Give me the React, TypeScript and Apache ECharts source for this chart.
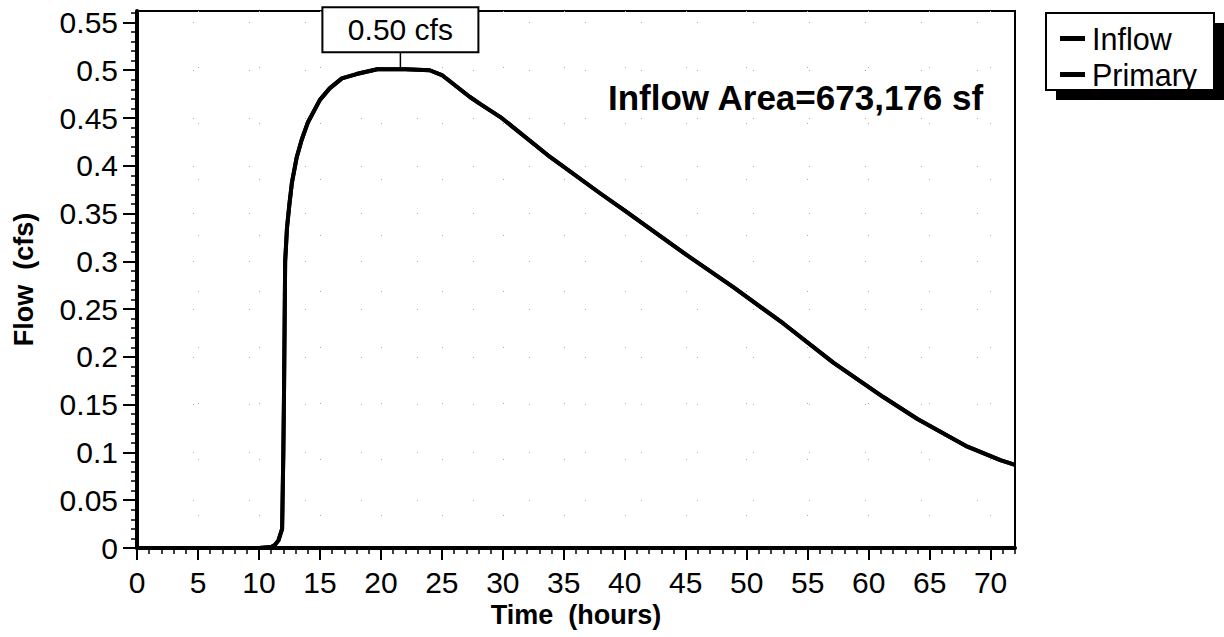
import React, { useEffect, useRef } from "react";
import * as echarts from "echarts";

// Hydrograph data (time in hours, flow in cfs)
const hours = [
  0, 10, 11, 11.3, 11.6, 11.9, 12.0, 12.05, 12.15, 12.3, 12.5, 12.7, 13.1, 13.5, 14.0,
  15.0, 15.8, 16.8, 18.0, 19.7, 22.0, 24.0, 25.0, 27.3, 28.1, 29.8, 33.9, 38.0, 40.0,
  44.8, 48.9, 53.0, 57.1, 61.2, 64.0, 68.1, 70.8, 72.0,
];
const inflowCfs = [
  0, 0, 0.001, 0.003, 0.008, 0.02, 0.1, 0.155, 0.3, 0.335, 0.36, 0.382, 0.409, 0.427, 0.445,
  0.469, 0.481, 0.4915, 0.496, 0.501, 0.501, 0.5, 0.495, 0.472, 0.465, 0.451, 0.409, 0.371, 0.353,
  0.309, 0.273, 0.235, 0.194, 0.158, 0.135, 0.106, 0.092, 0.087,
];
// Primary outflow coincides with the inflow in the picture
const primaryCfs = [
  0, 0, 0.001, 0.003, 0.008, 0.02, 0.1, 0.155, 0.3, 0.335, 0.36, 0.382, 0.409, 0.427, 0.445,
  0.469, 0.481, 0.4915, 0.496, 0.501, 0.501, 0.5, 0.495, 0.472, 0.465, 0.451, 0.409, 0.371, 0.353,
  0.309, 0.273, 0.235, 0.194, 0.158, 0.135, 0.106, 0.092, 0.087,
];
const seriesNames = ["Inflow", "Primary"];

const xTickLabels = [0, 5, 10, 15, 20, 25, 30, 35, 40, 45, 50, 55, 60, 65, 70];
const yTickLabels = [0, 0.05, 0.1, 0.15, 0.2, 0.25, 0.3, 0.35, 0.4, 0.45, 0.5, 0.55];

const peakTime = 21.6;
const peakFlow = 0.5;
const peakLabel = "0.50 cfs";
const areaLabel = "Inflow Area=673,176 sf";

const FONT = '"Liberation Sans", Arial, Helvetica, sans-serif';

export default function App() {
  const ref = useRef<HTMLDivElement>(null);

  useEffect(() => {
    if (!ref.current) return;
    const chart = echarts.init(ref.current, null, { renderer: "svg" });

    const xMinor: number[] = [];
    for (let h = 0; h <= 72; h++) if (h % 5 !== 0) xMinor.push(h);
    const yMinor: number[] = [];
    for (let i = 0; i <= 56; i++) if (i % 5 !== 0) yMinor.push(i / 100);

    const toPairs = (ys: number[]) => hours.map((h, i) => [h, ys[i]]);

    const gridLine = { show: true, lineStyle: { color: "#a8a8a8", type: [1, 55], width: 1 } };

    chart.setOption({
      animation: false,
      backgroundColor: "#ffffff",
      textStyle: { fontFamily: FONT },
      grid: {
        left: 137,
        top: 11,
        right: 209,
        bottom: 89,
        show: true,
        borderColor: "#000",
        borderWidth: 2,
        backgroundColor: "transparent",
      },
      legend: {
        data: seriesNames,
        orient: "vertical",
        left: 1060,
        top: 23,
        padding: 0,
        itemGap: 5,
        itemWidth: 25,
        itemHeight: 5,
        icon: "rect",
        z: 10,
        textStyle: { fontSize: 30.5, color: "#000", fontFamily: FONT, padding: [0, 0, 0, 2] },
      },
      xAxis: [
        {
          type: "value",
          min: 0,
          max: 72,
          position: "bottom",
          name: "Time  (hours)",
          nameLocation: "middle",
          nameGap: 52,
          nameTextStyle: { fontFamily: FONT, fontSize: 27, fontWeight: "bold", color: "#000" },
          axisLine: { show: true, onZero: false, lineStyle: { color: "#000", width: 4 } },
          axisTick: { show: true, customValues: xTickLabels, length: 12, lineStyle: { color: "#000", width: 2 } },
          axisLabel: { customValues: xTickLabels, fontSize: 30, color: "#000", margin: 19, fontFamily: FONT },
          splitLine: gridLine,
        },
        {
          type: "value",
          min: 0,
          max: 72,
          position: "bottom",
          axisLine: { show: false, onZero: false },
          axisTick: { show: true, customValues: xMinor, length: 6, lineStyle: { color: "#000", width: 1.5 } },
          axisLabel: { show: false },
          splitLine: { show: false },
        },
      ],
      yAxis: [
        {
          type: "value",
          min: 0,
          max: 0.562,
          position: "left",
          name: "Flow  (cfs)",
          nameLocation: "middle",
          nameGap: 100,
          nameRotate: 90,
          nameTextStyle: { fontFamily: FONT, fontSize: 27, fontWeight: "bold", color: "#000" },
          axisLine: { show: true, onZero: false, lineStyle: { color: "#000", width: 4 } },
          axisTick: { show: true, customValues: yTickLabels, length: 14, lineStyle: { color: "#000", width: 2 } },
          axisLabel: {
            customValues: yTickLabels,
            fontSize: 30,
            color: "#000",
            margin: 19,
            fontFamily: FONT,
            formatter: (v: number) => String(Math.round(v * 100) / 100),
          },
          splitLine: gridLine,
        },
        {
          type: "value",
          min: 0,
          max: 0.562,
          position: "left",
          axisLine: { show: false, onZero: false },
          axisTick: { show: true, customValues: yMinor, length: 6, lineStyle: { color: "#000", width: 1.5 } },
          axisLabel: { show: false },
          splitLine: { show: false },
        },
      ],
      series: [
        {
          name: seriesNames[0],
          type: "line",
          xAxisIndex: 0,
          yAxisIndex: 0,
          data: toPairs(inflowCfs),
          showSymbol: false,
          symbol: "none",
          color: "#000",
          lineStyle: { color: "#000", width: 4, join: "round" },
          z: 3,
        },
        {
          name: seriesNames[1],
          type: "line",
          xAxisIndex: 0,
          yAxisIndex: 0,
          data: toPairs(primaryCfs),
          showSymbol: false,
          symbol: "none",
          color: "#000",
          lineStyle: { color: "#000", width: 4, join: "round" },
          z: 4,
        },
      ],
    });

    const peak = chart.convertToPixel({ xAxisIndex: 0, yAxisIndex: 0 }, [peakTime, peakFlow]) as number[];
    const boxW = 156;
    const boxH = 45;
    const boxBottom = peak[1] - 18;

    chart.setOption({
      graphic: [
        // legend shadow & box
        { type: "rect", z: 1, shape: { x: 1056, y: 23, width: 168, height: 77 }, style: { fill: "#000" } },
        {
          type: "rect",
          z: 2,
          shape: { x: 1046, y: 13, width: 168, height: 77 },
          style: { fill: "#fff", stroke: "#000", lineWidth: 2 },
        },
        // peak annotation
        {
          type: "line",
          z: 20,
          shape: { x1: peak[0], y1: boxBottom, x2: peak[0], y2: peak[1] - 2 },
          style: { stroke: "#000", lineWidth: 1.5 },
        },
        {
          type: "rect",
          z: 20,
          shape: { x: peak[0] - boxW / 2, y: boxBottom - boxH, width: boxW, height: boxH },
          style: { fill: "#fff", stroke: "#000", lineWidth: 2 },
        },
        {
          type: "text",
          z: 21,
          x: peak[0],
          y: boxBottom - boxH / 2,
          style: {
            text: peakLabel,
            fontSize: 30,
            fontFamily: FONT,
            fill: "#000",
            align: "center",
            verticalAlign: "middle",
          },
        },
        {
          type: "text",
          z: 21,
          x: 608,
          y: 97,
          style: {
            text: areaLabel,
            fontSize: 35,
            fontWeight: "bold",
            fontFamily: FONT,
            fill: "#000",
            align: "left",
            verticalAlign: "middle",
          },
        },
      ],
    });

    return () => chart.dispose();
  }, []);

  return (
    <div
      ref={ref}
      style={{ position: "fixed", left: 0, top: 0, width: 1224, height: 637, background: "#fff" }}
    />
  );
}
